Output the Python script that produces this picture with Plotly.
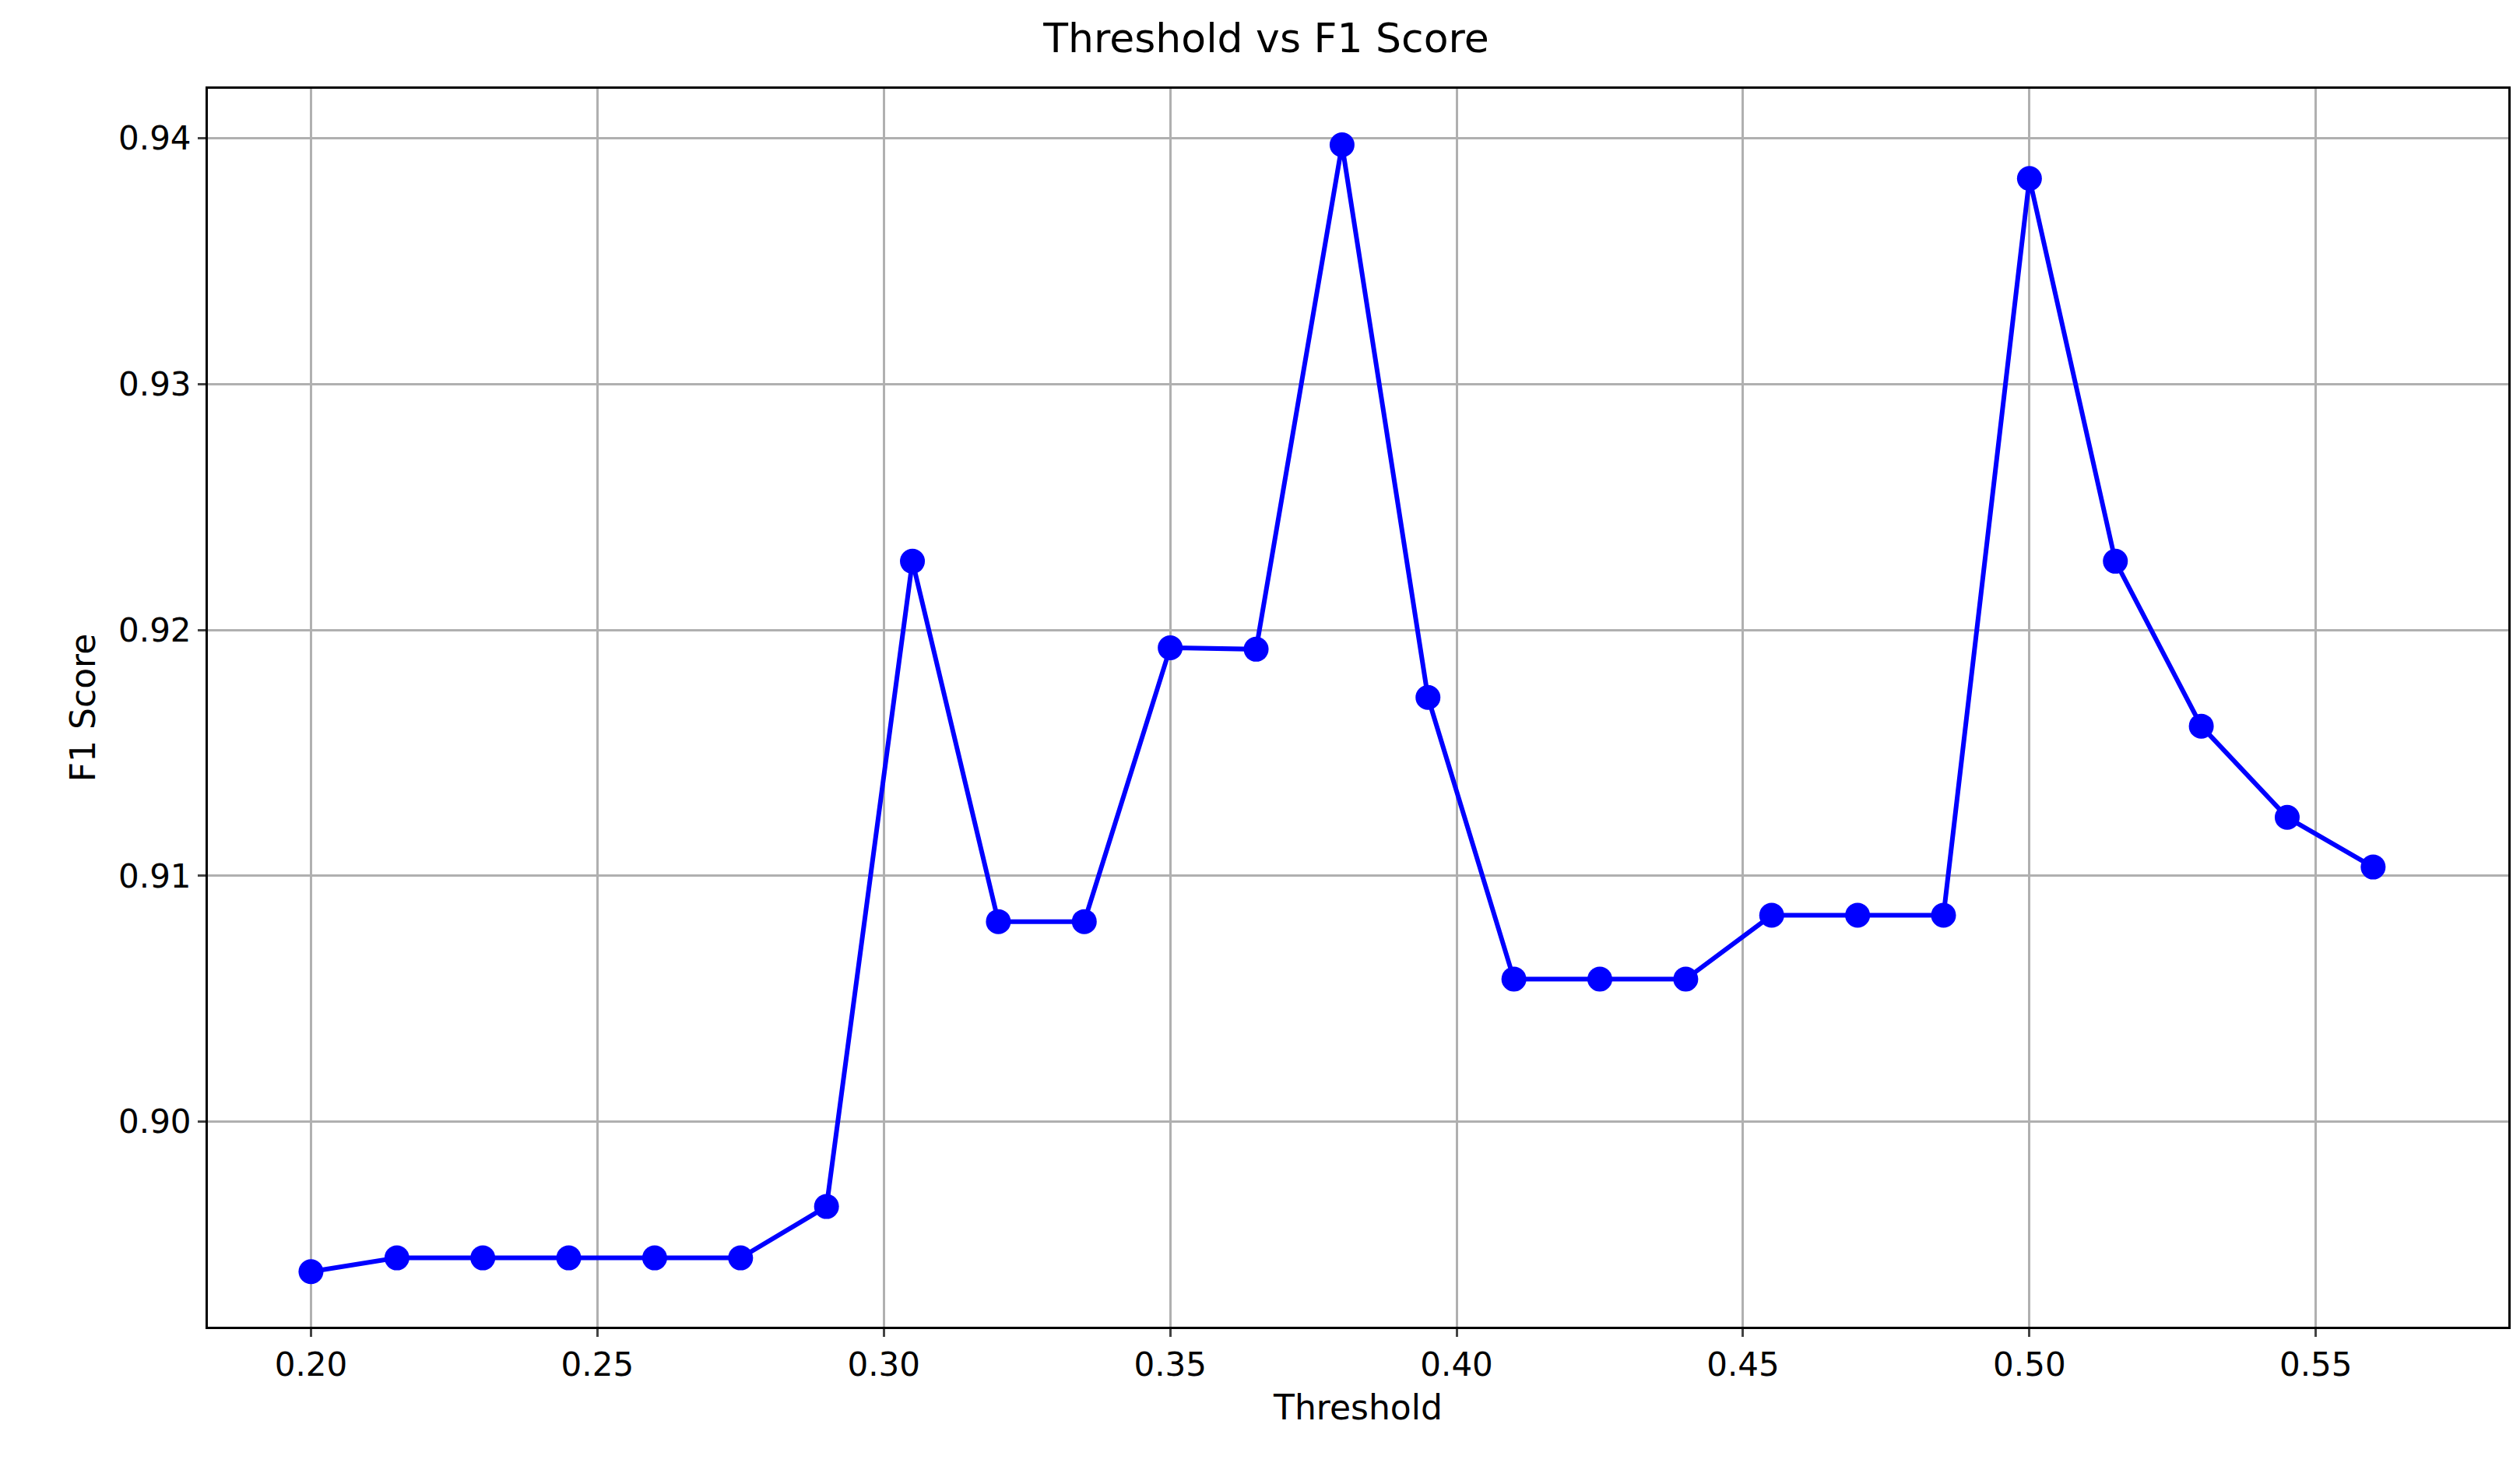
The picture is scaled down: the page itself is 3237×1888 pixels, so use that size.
import plotly.graph_objects as go

thresholds = [0.200, 0.215, 0.230, 0.245, 0.260, 0.275, 0.290, 0.305, 0.320, 0.335, 0.350, 0.365,
              0.380, 0.395, 0.410, 0.425, 0.440, 0.455, 0.470, 0.485, 0.500, 0.515, 0.530, 0.545, 0.560]
f1_scores = [0.8939, 0.89446, 0.89446, 0.89446, 0.89446, 0.89446, 0.89655, 0.9228, 0.90814, 0.90814,
             0.91928, 0.91922, 0.93974, 0.91726, 0.9058, 0.9058, 0.9058, 0.9084, 0.9084, 0.9084,
             0.93837, 0.9228, 0.91609, 0.91238, 0.91036]
x_ticks = [0.20, 0.25, 0.30, 0.35, 0.40, 0.45, 0.50, 0.55]
y_ticks = [0.90, 0.91, 0.92, 0.93, 0.94]

fig = go.Figure(go.Scatter(x=thresholds, y=f1_scores, mode="lines+markers",
                           line=dict(color="blue", width=6),
                           marker=dict(color="blue", size=32)))
font = "DejaVu Sans"
fig.update_layout(
    width=3237, height=1888, paper_bgcolor="white", plot_bgcolor="white",
    margin=dict(l=259, r=23, t=106, b=192),
    font=dict(family=font, size=42, color="black"),
    title=dict(text="Threshold vs F1 Score", x=0.5, xanchor="center", y=0.988, yanchor="top",
               font=dict(size=52)),
    showlegend=False,
)
axis_common = dict(showgrid=True, gridcolor="#b0b0b0", gridwidth=3, showline=True, linecolor="black",
                   linewidth=3, mirror=True, ticks="outside", ticklen=10, tickwidth=3, zeroline=False)
fig.update_xaxes(range=[0.182, 0.5836], tickvals=x_ticks, tickformat=".2f",
                 title=dict(text="Threshold", font=dict(size=44), standoff=16), **axis_common)
fig.update_yaxes(range=[0.89166, 0.94202], tickvals=y_ticks, tickformat=".2f",
                 title=dict(text="F1 Score", font=dict(size=44), standoff=16), **axis_common)
fig.write_html("out.html")
